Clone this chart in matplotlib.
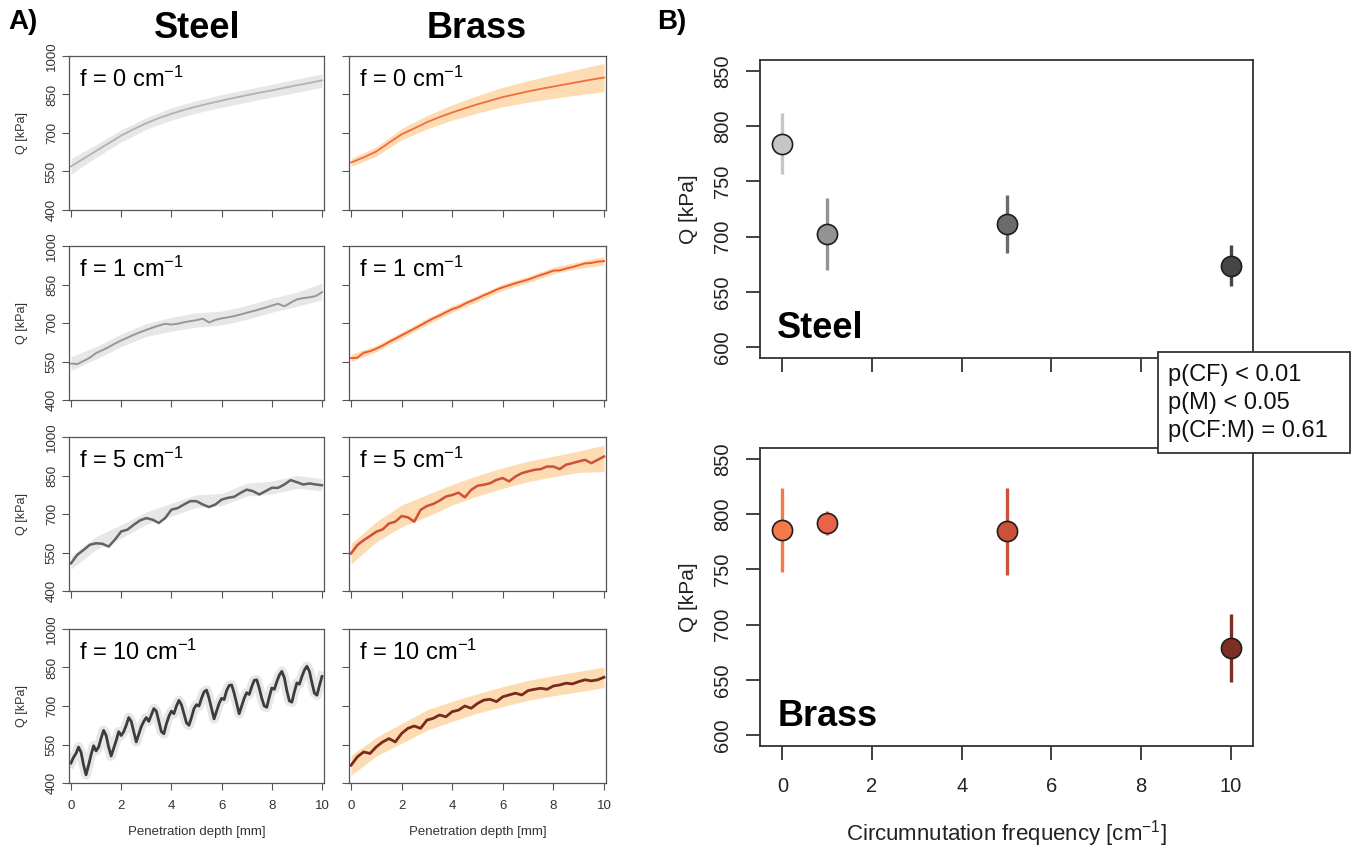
import numpy as np
import matplotlib
matplotlib.use("Agg")
import matplotlib.pyplot as plt
from matplotlib.patches import Rectangle

plt.rcParams['font.family'] = ['Liberation Sans', 'DejaVu Sans']
plt.rcParams['mathtext.fontset'] = 'custom'
plt.rcParams['mathtext.rm'] = 'Liberation Sans'
plt.rcParams['mathtext.it'] = 'Liberation Sans:italic'
plt.rcParams['mathtext.bf'] = 'Liberation Sans:bold'

# ---------------- panel A: Q [kPa] vs penetration depth [mm] ----------------
freqs = [0, 1, 5, 10]

depth_half = np.linspace(0, 10, 21)
depth_quarter = np.linspace(0, 10, 41)
depth_tenth = np.linspace(0, 10, 101)
band_depth = np.linspace(0, 10, 11)

steel_f0 = [570, 600, 630, 660, 690, 715, 738, 758, 775, 790, 803,
            815, 826, 837, 847, 857, 866, 876, 886, 895, 905]
steel_f0_lo = [540, 605, 665, 715, 750, 778, 800, 820, 840, 858, 878]
steel_f0_hi = [600, 655, 712, 760, 798, 826, 850, 870, 890, 910, 930]

brass_f0 = [585, 605, 628, 662, 695, 718, 742, 762, 780, 796, 812,
            826, 840, 851, 862, 872, 881, 890, 899, 908, 916]
brass_f0_lo = [570, 610, 673, 716, 750, 778, 802, 820, 835, 849, 861]
brass_f0_hi = [600, 646, 717, 768, 810, 846, 878, 904, 927, 949, 971]

steel_f1 = [542, 540, 552, 565, 583, 594, 606, 620, 632, 643, 654,
            664, 673, 682, 690, 697, 694, 697, 703, 707, 711, 717,
            702, 712, 718, 722, 727, 733, 740, 746, 753, 760, 768,
            775, 765, 779, 792, 797, 800, 805, 820]
steel_f1_lo = [515, 560, 608, 648, 668, 684, 692, 714, 742, 765, 790]
steel_f1_hi = [568, 608, 657, 698, 722, 740, 746, 768, 796, 820, 855]

brass_f1 = [563, 565, 584, 590, 600, 612, 626, 639, 652, 665, 678,
            691, 705, 718, 729, 742, 754, 762, 775, 786, 796, 808,
            818, 830, 839, 847, 855, 862, 869, 878, 887, 895, 904,
            905, 912, 918, 925, 932, 934, 939, 941]
brass_f1_lo = [550, 588, 640, 693, 742, 784, 827, 857, 892, 912, 926]
brass_f1_hi = [578, 613, 665, 718, 767, 809, 852, 882, 917, 939, 958]

steel_f5 = [508, 541, 560, 580, 586, 584, 573, 600, 632, 639, 658,
            675, 684, 678, 665, 684, 717, 723, 737, 750, 750, 737,
            727, 737, 756, 763, 767, 782, 795, 789, 776, 789, 802,
            802, 815, 832, 824, 815, 819, 815, 812]
steel_f5_lo = [485, 562, 606, 660, 692, 726, 732, 770, 778, 800, 790]
steel_f5_hi = [535, 612, 658, 708, 742, 775, 780, 820, 828, 850, 838]

brass_f5 = [546, 579, 598, 614, 631, 640, 663, 670, 692, 687, 670,
            716, 731, 739, 752, 768, 774, 783, 765, 794, 810, 814,
            820, 833, 840, 827, 846, 859, 866, 872, 875, 885, 885,
            875, 892, 898, 905, 911, 898, 911, 924]
brass_f5_lo = [505, 592, 650, 690, 735, 770, 800, 826, 845, 862, 865]
brass_f5_hi = [585, 670, 735, 775, 815, 850, 880, 906, 925, 945, 968]

steel_f10 = [478, 500, 515, 540, 520, 470, 432, 470, 510, 545,
             525, 540, 575, 605, 585, 540, 505, 535, 565, 600,
             585, 600, 625, 655, 640, 600, 560, 590, 620, 640,
             655, 640, 665, 690, 680, 640, 600, 592, 630, 660,
             680, 670, 700, 722, 705, 670, 635, 625, 655, 690,
             705, 700, 730, 755, 762, 730, 690, 650, 680, 710,
             730, 725, 760, 780, 782, 750, 710, 670, 700, 730,
             752, 745, 775, 800, 802, 770, 730, 700, 695, 735,
             770, 765, 795, 820, 835, 810, 760, 720, 715, 755,
             790, 785, 815, 840, 855, 835, 790, 750, 742, 780,
             815]

brass_f10 = [469, 502, 521, 515, 541, 560, 573, 560, 593, 613, 622,
             613, 645, 652, 665, 658, 678, 684, 700, 691, 710, 723,
             726, 717, 736, 743, 750, 743, 760, 765, 769, 765, 778,
             782, 789, 786, 795, 802, 798, 802, 812]
brass_f10_lo = [430, 505, 555, 605, 640, 672, 698, 722, 740, 755, 772]
brass_f10_hi = [508, 578, 632, 685, 718, 748, 775, 800, 818, 835, 852]

# ---------------- panel B: mean Q per circumnutation frequency ----------------
steel_mean = [784, 702, 711, 673]
steel_low = [757, 670, 685, 655]
steel_high = [812, 735, 738, 692]

brass_mean = [786, 792, 785, 679]
brass_low = [748, 781, 745, 648]
brass_high = [824, 803, 824, 710]

stats_lines = ["p(CF) < 0.01", "p(M) < 0.05", "p(CF:M) = 0.61"]

# colours
steel_line = ['#b2b2b2', '#979797', '#626262', '#3c3c3c']
brass_line = ['#f26d3d', '#f05a30', '#cf4f37', '#7a2a1c']
steel_band = '#e7e7e7'
brass_band = '#fddcb4'
steel_fill = ['#c6c6c6', '#939393', '#6b6b6b', '#464646']
brass_fill = ['#f47a49', '#e9634a', '#cc5139', '#7c2f22']

W, H = 1352, 848
fig = plt.figure(figsize=(W / 100, H / 100), dpi=100)


def px_axes(x0, y0, x1, y1):
    return fig.add_axes([x0 / W, 1 - y1 / H, (x1 - x0) / W, (y1 - y0) / H])


def style_small(ax, left_col, bottom_row):
    ax.set_xlim(-0.08, 10.08)
    ax.set_ylim(400, 1000)
    ax.set_xticks(range(0, 11, 2))
    ax.set_yticks([400, 550, 700, 850, 1000])
    for s in ax.spines.values():
        s.set_color('#555555')
        s.set_linewidth(0.9)
    ax.tick_params(direction='out', length=5, width=0.8, color='#555555',
                   labelsize=9.5, labelcolor='#333333', pad=3)
    if left_col:
        for lab in ax.get_yticklabels():
            lab.set_rotation(90)
            lab.set_va('center')
    else:
        ax.set_yticklabels([])
    if bottom_row:
        ax.tick_params(axis='x', pad=7)
    else:
        ax.set_xticklabels([])


rows_top = [56, 246, 437, 629]
row_h = 154
col_x = [(69, 324), (349, 606)]

steel_series = [
    (depth_half, steel_f0, steel_f0_lo, steel_f0_hi),
    (depth_quarter, steel_f1, steel_f1_lo, steel_f1_hi),
    (depth_quarter, steel_f5, steel_f5_lo, steel_f5_hi),
    (depth_tenth, steel_f10, None, None),
]
brass_series = [
    (depth_half, brass_f0, brass_f0_lo, brass_f0_hi),
    (depth_quarter, brass_f1, brass_f1_lo, brass_f1_hi),
    (depth_quarter, brass_f5, brass_f5_lo, brass_f5_hi),
    (depth_quarter, brass_f10, brass_f10_lo, brass_f10_hi),
]
line_w = [1.3, 1.4, 1.8, 2.0]

for i, f in enumerate(freqs):
    top = rows_top[i]
    for j, (series, lcol, bcol) in enumerate([(steel_series, steel_line, steel_band),
                                              (brass_series, brass_line, brass_band)]):
        ax = px_axes(col_x[j][0], top, col_x[j][1], top + row_h)
        x, y, lo, hi = series[i]
        if lo is not None:
            ax.fill_between(band_depth, lo, hi, color=bcol, lw=0)
        else:
            # narrow SE band drawn as a light halo that follows the oscillation
            ax.plot(x, y, color=bcol, lw=7, solid_joinstyle='round')
        ax.plot(x, y, color=lcol[i], lw=line_w[i])
        ax.text(0.04, 0.93, f'f = {f} cm$^{{-1}}$', transform=ax.transAxes,
                fontsize=17, ha='left', va='top')
        style_small(ax, j == 0, i == 3)
        if j == 0:
            fig.text(22 / W, 1 - (top + row_h / 2) / H, 'Q [kPa]', rotation=90,
                     ha='center', va='center', fontsize=9, color='#333333')
        if i == 3:
            ax.set_xlabel('Penetration depth [mm]', fontsize=9.5, color='#333333',
                          labelpad=10)

fig.text(197 / W, 1 - 28 / H, 'Steel', fontsize=26, weight='bold', ha='center', va='center')
fig.text(477 / W, 1 - 28 / H, 'Brass', fontsize=26, weight='bold', ha='center', va='center')
fig.text(8 / W, 1 - 22 / H, 'A)', fontsize=20, weight='bold', ha='left', va='center')
fig.text(657 / W, 1 - 22 / H, 'B)', fontsize=20, weight='bold', ha='left', va='center')

# ---------------- panel B ----------------
b_axes = [px_axes(760, 60, 1253, 358), px_axes(760, 448, 1253, 746)]
b_sets = [(steel_mean, steel_low, steel_high, steel_fill, 'Steel'),
          (brass_mean, brass_low, brass_high, brass_fill, 'Brass')]

for k, (ax, (mean, low, high, fills, name)) in enumerate(zip(b_axes, b_sets)):
    for f, m, l, h, c in zip(freqs, mean, low, high, fills):
        ax.vlines(f, l, h, color=c, lw=2.4, zorder=2)
        ax.plot(f, m, 'o', ms=14.5, mfc=c, mec='#1e1e1e', mew=1.2, zorder=3)
    ax.set_xlim(-0.5, 10.5)
    ax.set_ylim(590, 860)
    ax.set_xticks(range(0, 11, 2))
    ax.set_yticks(range(600, 851, 50))
    for s in ax.spines.values():
        s.set_color('#333333')
        s.set_linewidth(1.3)
    ax.tick_params(direction='out', length=10, width=1.3, color='#333333',
                   labelsize=14.5, labelcolor='#222222', pad=10)
    ax.tick_params(axis='x', pad=12)
    for lab in ax.get_yticklabels():
        lab.set_rotation(90)
        lab.set_va('center')
    ax.text(0.035, 0.04, name, transform=ax.transAxes, fontsize=26,
            weight='bold', ha='left', va='bottom')
    fig.text(688 / W, 1 - (60 + 149 + k * 388) / H, 'Q [kPa]', rotation=90,
             ha='center', va='center', fontsize=15, color='#222222')
    if k == 0:
        ax.set_xticklabels([])
    else:
        ax.set_xlabel('Circumnutation frequency [cm$^{-1}$]', fontsize=16,
                      color='#222222', labelpad=16)

# statistics box over the corner between the two B panels
fig.patches.append(Rectangle((1158 / W, 1 - 453 / H), 192 / W, 101 / H,
                             transform=fig.transFigure, facecolor='white',
                             edgecolor='#333333', lw=1.3, zorder=10))
for n, line in enumerate(stats_lines):
    fig.text(1168 / W, 1 - (375 + n * 28) / H, line, fontsize=17,
             ha='left', va='center', color='#111111', zorder=11)

fig.savefig('out.png', dpi=100)
